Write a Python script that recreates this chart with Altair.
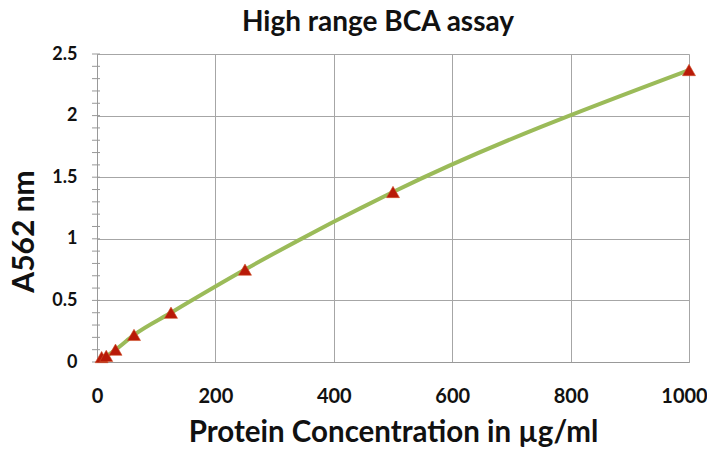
import altair as alt
import pandas as pd

concentration = [7.8, 15.6, 31.25, 62.5, 125, 250, 500, 1000]
absorbance = [0.04, 0.05, 0.10, 0.22, 0.40, 0.75, 1.38, 2.37]
minor_ticks = [round(i * 0.1, 1) for i in range(26)]
x_ticks = [0, 200, 400, 600, 800, 1000]
y_ticks = [0, 0.5, 1, 1.5, 2, 2.5]

df = pd.DataFrame({"conc": concentration, "abs": absorbance})
ticks_df = pd.DataFrame({"v": minor_ticks})

FONT = "Lato"

x_scale = alt.Scale(domain=[0, 1000], nice=False)
y_scale = alt.Scale(domain=[0, 2.5], nice=False)

x_enc = alt.X(
    "conc:Q",
    scale=x_scale,
    axis=alt.Axis(
        values=x_ticks,
        format="d",
        title="Protein Concentration  in µg/ml",
        titleFontSize=29.5,
        titleFont=FONT,
        titleFontWeight="bold",
        titleColor="#111111",
        titlePadding=12,
        labelFont=FONT,
        labelFontSize=20,
        labelFontWeight="bold",
        labelColor="#111111",
        labelPadding=24,
        labelOffset={"condition": {"test": "datum.value == 1000", "value": -5}, "value": 0},
        ticks=False,
        domainColor="#999999",
        gridColor="#A6A6A6",
        labelFlush=False,
    ),
)
y_enc = alt.Y(
    "abs:Q",
    scale=y_scale,
    axis=alt.Axis(
        values=y_ticks,
        format="~g",
        title="A562 nm",
        titleFontSize=30,
        titleFont=FONT,
        titleFontWeight="bold",
        titleColor="#111111",
        titlePadding=12,
        titleY=177,
        labelFont=FONT,
        labelFontSize=18,
        labelFontWeight="bold",
        labelColor="#111111",
        labelPadding=20,
        ticks=False,
        domainColor="#999999",
        gridColor="#A6A6A6",
        labelFlush=False,
    ),
)

line = alt.Chart(df).mark_line(
    color="#9BBB59", strokeWidth=4, interpolate="monotone"
).encode(x=x_enc, y=y_enc)

points = alt.Chart(df).mark_point(
    shape="triangle-up", filled=True, color="#B81A08", size=170, opacity=1,
    stroke="#D0502A", strokeWidth=0.6,
).encode(x=alt.X("conc:Q", scale=x_scale), y=alt.Y("abs:Q", scale=y_scale))

minor = alt.Chart(ticks_df).mark_rule(color="#999999", strokeWidth=1).encode(
    y=alt.Y("v:Q", scale=y_scale),
    x=alt.value(-5),
    x2=alt.value(3),
)

chart = (
    alt.layer(minor, line, points)
    .properties(
        width=592,
        height=308,
        title=alt.TitleParams(
            "High range BCA assay",
            font=FONT,
            fontSize=28,
            fontWeight="bold",
            color="#111111",
            offset=8,
            anchor="middle",
            dx=-15,
        ),
        autosize=alt.AutoSizeParams(type="none"),
        padding={"left": 89, "top": 46, "right": 18, "bottom": 86},
    )
    .configure_view(stroke=None)
    .configure(background="white")
)

chart.save("out.html", embed_options={"renderer": "svg", "actions": False})
